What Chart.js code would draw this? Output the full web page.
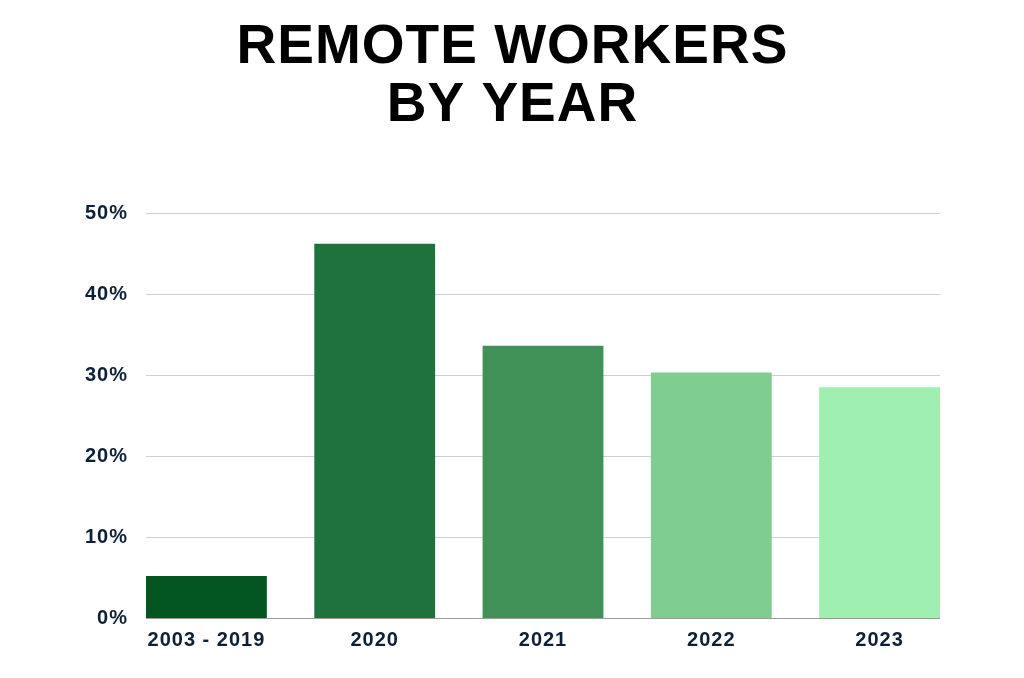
<!DOCTYPE html>
<html>
<head>
<meta charset="utf-8">
<script src="https://cdn.jsdelivr.net/npm/chart.js@4/dist/chart.umd.min.js"></script>
<style>
  html, body { margin: 0; padding: 0; background: #fff; }
  #wrap { width: 1024px; height: 678px; }
</style>
</head>
<body>
<div id="wrap"><canvas id="remoteChart"></canvas></div>
<script>
const categories = ['2003 - 2019', '2020', '2021', '2022', '2023'];
const remoteShare = [5.2, 46.2, 33.6, 30.3, 28.5];
const barColors = ['#03561f', '#1e723c', '#409158', '#7fcd90', '#9eefb0'];
const yTicks = [0, 10, 20, 30, 40, 50];

const labelColor = '#0d2035';
const fontFamily = '"Liberation Sans", Arial, sans-serif';

// slightly spaced lettering like the source image
const spacing = {
  id: 'spacing',
  beforeLayout(chart) { chart.ctx.letterSpacing = '1px'; },
  beforeDraw(chart) { chart.ctx.letterSpacing = '1px'; }
};

// grid lines only span the bars, like the source chart
const barGrid = {
  id: 'barGrid',
  beforeDatasetsDraw(chart) {
    const bars = chart.getDatasetMeta(0).data;
    if (!bars.length) return;
    const first = bars[0], last = bars[bars.length - 1];
    const left = first.x - first.width / 2;
    const right = last.x + last.width / 2;
    const y = chart.scales.y;
    const ctx = chart.ctx;
    ctx.save();
    ctx.lineWidth = 1;
    yTicks.forEach(t => {
      const py = Math.round(y.getPixelForValue(t)) + 0.5;
      ctx.strokeStyle = t === 0 ? '#9a9a9a' : '#cfcfcf';
      ctx.beginPath();
      ctx.moveTo(left, py);
      ctx.lineTo(right, py);
      ctx.stroke();
    });
    ctx.restore();
  }
};

const ctx = document.getElementById('remoteChart').getContext('2d');
const remoteChart = new Chart(ctx, {
  type: 'bar',
  data: {
    datasets: [{
      label: 'Remote workers',
      data: remoteShare.map((v, i) => ({ x: i, y: v })),
      backgroundColor: barColors,
      borderWidth: 0,
      categoryPercentage: 1,
      barPercentage: 0.718
    }]
  },
  plugins: [spacing, barGrid],
  options: {
    responsive: true,
    maintainAspectRatio: false,
    animation: false,
    layout: { padding: { left: 85, right: 84, top: 0, bottom: 16 } },
    plugins: {
      legend: { display: false },
      tooltip: { enabled: false },
      title: {
        display: true,
        text: ['REMOTE WORKERS', 'BY YEAR'],
        color: '#000',
        font: { family: fontFamily, size: 55, weight: 'bold', lineHeight: 1.055 },
        padding: { top: 19, bottom: 78 }
      }
    },
    scales: {
      x: {
        type: 'linear',
        min: -0.359,
        max: categories.length - 1 + 0.359,
        offset: false,
        grid: { display: false, drawTicks: false },
        border: { display: false },
        afterBuildTicks(scale) { scale.ticks = categories.map((c, i) => ({ value: i })); },
        ticks: {
          color: labelColor,
          padding: 10,
          maxRotation: 0,
          autoSkip: false,
          font: { family: fontFamily, size: 20, weight: 'bold' },
          callback: v => categories[v]
        }
      },
      y: {
        min: 0,
        max: 50,
        grid: { display: false, drawTicks: false },
        border: { display: false },
        afterFit(scale) { scale.width = 61; },
        afterBuildTicks(scale) { scale.ticks = yTicks.map(v => ({ value: v })); },
        ticks: {
          color: labelColor,
          padding: 18,
          font: { family: fontFamily, size: 20, weight: 'bold' },
          callback: v => v + '%'
        }
      }
    }
  }
});
</script>
</body>
</html>
